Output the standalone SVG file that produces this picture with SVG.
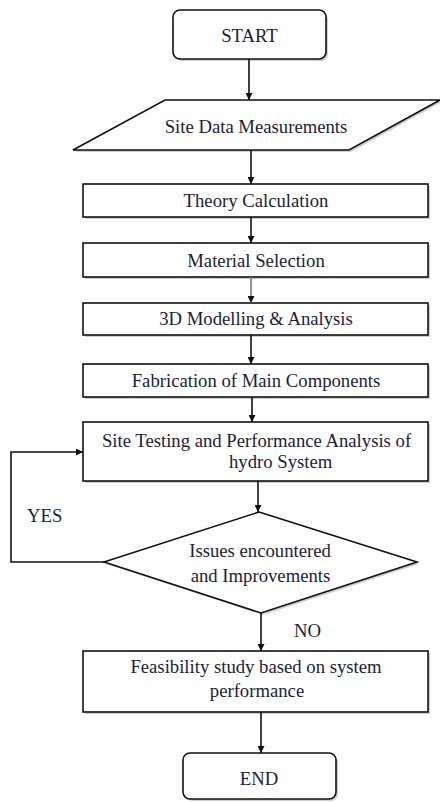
<svg xmlns="http://www.w3.org/2000/svg" width="440" height="803" viewBox="0 0 440 803">
<style>
  .shape{fill:#fff;stroke:#111;stroke-width:1.6}
  .shadow{fill:#cfcfcf;stroke:none}
  text{font-family:'Liberation Serif','Times New Roman',serif;font-size:18.7px;fill:#1c1c3a}
  .t{text-anchor:middle}
  .ts{text-anchor:start}
  .c{fill:none;stroke:#111;stroke-width:1.6}
  .cg{fill:none;stroke:#777;stroke-width:1.6}
</style>
<defs>
  <marker id="ah" viewBox="0 0 10 10" refX="10" refY="5" markerWidth="7" markerHeight="7" markerUnits="userSpaceOnUse" orient="auto">
    <path d="M0,0 L10,5 L0,10 Z" fill="#111"/>
  </marker>
</defs>
<rect width="440" height="803" fill="#fff"/>

<g id="start">
  <rect class="shadow" x="175" y="12" width="153" height="49" rx="7"/>
  <rect class="shape" x="173" y="10" width="153" height="49" rx="7"/>
  <text class="t" x="249.5" y="42">START</text>
</g>

<g id="site-data">
  <polygon class="shadow" points="167,102 442,102 351,152 75,152"/>
  <polygon class="shape" points="165,100 440,100 349,150 73,150"/>
  <text class="t" x="256" y="133">Site Data Measurements</text>
</g>

<g id="theory">
  <rect class="shadow" x="85" y="186" width="345" height="33"/>
  <rect class="shape" x="83" y="184" width="345" height="33"/>
  <text class="t" x="256" y="207">Theory Calculation</text>
</g>

<g id="material">
  <rect class="shadow" x="85" y="245" width="345" height="34"/>
  <rect class="shape" x="83" y="243" width="345" height="34"/>
  <text class="t" x="256" y="267">Material Selection</text>
</g>

<g id="modelling">
  <rect class="shadow" x="85" y="305" width="345" height="32"/>
  <rect class="shape" x="83" y="303" width="345" height="32"/>
  <text class="t" x="256" y="325">3D Modelling &amp; Analysis</text>
</g>

<g id="fabrication">
  <rect class="shadow" x="85" y="366" width="345" height="33"/>
  <rect class="shape" x="83" y="364" width="345" height="33"/>
  <text class="t" x="256" y="387">Fabrication of Main Components</text>
</g>

<g id="site-testing">
  <rect class="shadow" x="85" y="424" width="345" height="59"/>
  <rect class="shape" x="83" y="422" width="345" height="59"/>
  <text class="t" x="256.5" y="447">Site Testing and Performance Analysis of</text>
  <text class="ts" x="229" y="468">hydro System</text>
</g>

<g id="issues">
  <polygon class="shadow" points="261,514 419,564 263,615 106,564"/>
  <polygon class="shape" points="259,512 417,562 261,613 104,562"/>
  <text class="t" x="260" y="557">Issues encountered</text>
  <text class="t" x="260.5" y="582">and Improvements</text>
</g>

<g id="feasibility">
  <rect class="shadow" x="85" y="653" width="345" height="61"/>
  <rect class="shape" x="83" y="651" width="345" height="61"/>
  <text class="t" x="256" y="673">Feasibility study based on system</text>
  <text class="t" x="257" y="697">performance</text>
</g>

<g id="end">
  <rect class="shadow" x="185" y="755" width="153" height="46" rx="7"/>
  <rect class="shape" x="183" y="753" width="153" height="46" rx="7"/>
  <text class="t" x="259" y="785">END</text>
</g>

<g id="connectors">
  <line class="c" x1="249" y1="59" x2="249" y2="100" marker-end="url(#ah)"/>
  <line class="c" x1="251" y1="150" x2="251" y2="184" marker-end="url(#ah)"/>
  <line class="c" x1="251" y1="217" x2="251" y2="243" marker-end="url(#ah)"/>
  <line class="cg" x1="251" y1="277" x2="251" y2="303" marker-end="url(#ah)"/>
  <line class="c" x1="251" y1="335" x2="251" y2="364" marker-end="url(#ah)"/>
  <line class="c" x1="252" y1="397" x2="252" y2="422" marker-end="url(#ah)"/>
  <line class="c" x1="258" y1="481" x2="258" y2="512" marker-end="url(#ah)"/>
  <line class="c" x1="261" y1="613" x2="261" y2="651" marker-end="url(#ah)"/>
  <line class="c" x1="261" y1="712" x2="261" y2="753" marker-end="url(#ah)"/>
  <polyline class="c" points="104,562 11,562 11,452 83,452" marker-end="url(#ah)"/>
  <text class="ts" x="27" y="522">YES</text>
  <text class="ts" x="294" y="637">NO</text>
</g>
</svg>
